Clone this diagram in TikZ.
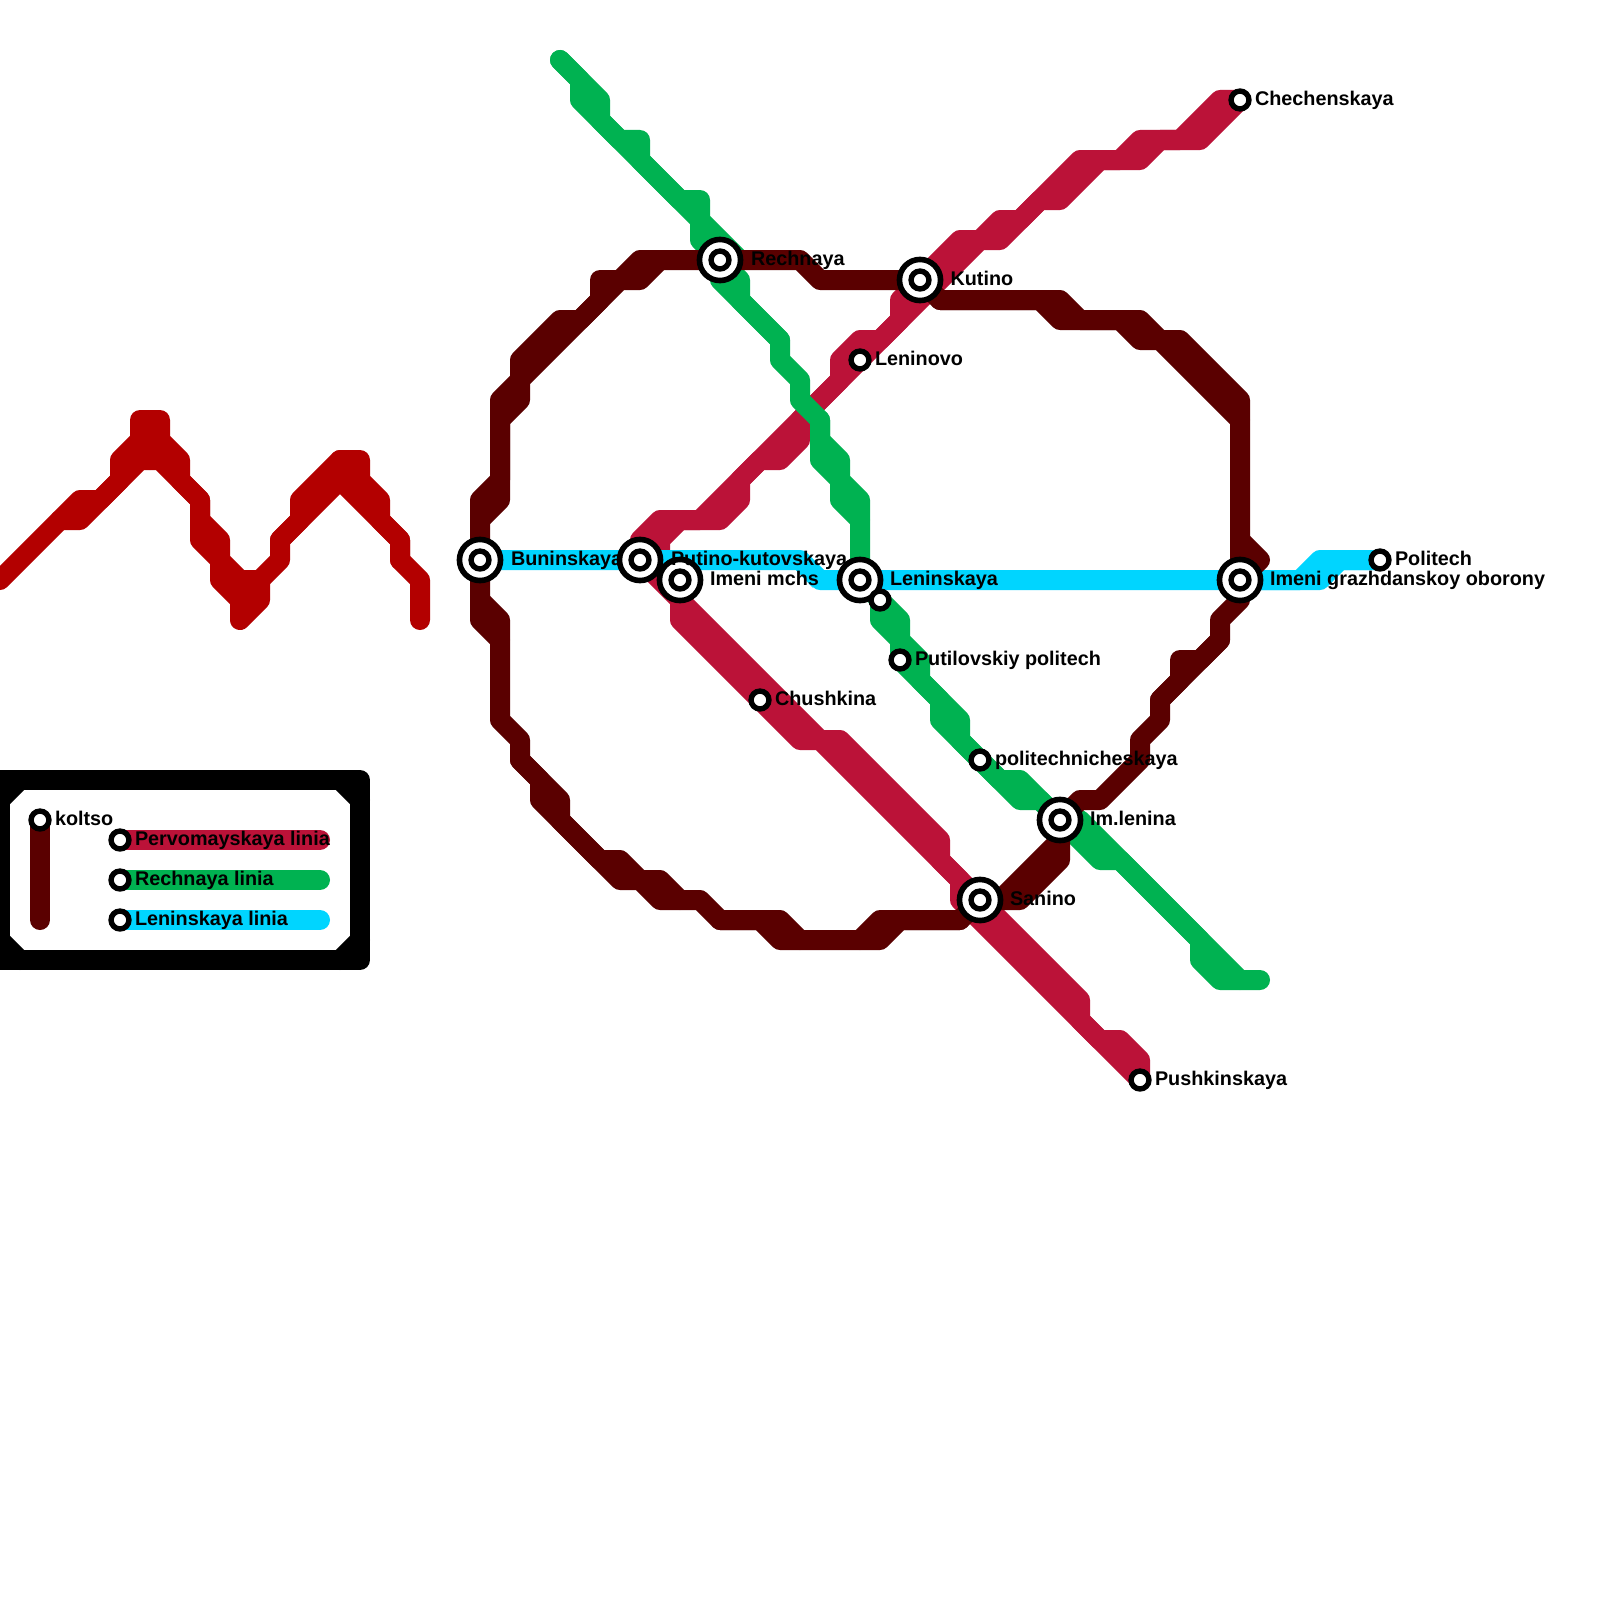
\documentclass[tikz,border=0pt]{standalone}
\usepackage{fontspec}
\setmainfont{Liberation Sans}
\definecolor{cred}{HTML}{B30000}
\definecolor{cpink}{HTML}{BB1238}
\definecolor{cgreen}{HTML}{00B251}
\definecolor{ccyan}{HTML}{00D5FF}
\definecolor{cbrown}{HTML}{5A0000}
\tikzset{
  route/.style={line width=20pt,line cap=round,line join=round},
  bigstn/.style={circle,draw=black,fill=white,line width=5.6pt,minimum size=41.1pt,inner sep=0pt,outer sep=0pt},
  smallstn/.style={circle,draw=black,fill=white,line width=5.4pt,minimum size=17.9pt,inner sep=0pt,outer sep=0pt},
  lbl/.style={anchor=base west,inner sep=0pt,outer sep=0pt,font=\fontsize{19.8}{24}\selectfont\bfseries,text=black},
}
\begin{document}
\begin{tikzpicture}[x=1pt,y=-1pt]
\clip (0,0) rectangle (1600,1600);
\fill[white] (0,0) rectangle (1600,1600);
% station positions
\coordinate (bun) at (480,560);
\coordinate (put) at (640,560);
\coordinate (mch) at (680,580);
\coordinate (chu) at (760,700);
\coordinate (rec) at (720,260);
\coordinate (kut) at (920,280);
\coordinate (len) at (860,360);
\coordinate (lns) at (860,580);
\coordinate (unn) at (880,600);
\coordinate (ptl) at (900,660);
\coordinate (plt) at (980,760);
\coordinate (iml) at (1060,820);
\coordinate (san) at (980,900);
\coordinate (pus) at (1140,1080);
\coordinate (che) at (1240,100);
\coordinate (igo) at (1240,580);
\coordinate (pol) at (1380,560);
\coordinate (kol) at (40,820);
\coordinate (lgp) at (120,840);
\coordinate (lgr) at (120,880);
\coordinate (lgl) at (120,920);
% isolated red line
\draw[route,cred] (0,580)--(80,500)--(100,500)--(120,480)--(120,460)--(140,440)--(140,420)--(160,420)--(160,440)--(180,460)--(180,480)--(200,500)--(200,520)--(220,540)--(220,560)--(240,580)--(260,580)--(280,560)--(280,540)--(300,520)--(300,500)--(340,460)--(360,460)--(360,480)--(380,500)--(380,520)--(400,540)--(400,560)--(420,580)--(420,620);
\draw[route,cred] (60,520)--(80,520)--(140,460)--(160,460)--(200,500)--(200,540)--(220,560)--(220,580)--(240,600)--(240,620)--(260,600)--(260,580);
\draw[route,cred] (280,540)--(340,480)--(400,540)--(400,560);
\draw[route,cred] (140,440)--(160,440)--(150,460)--cycle;
\draw[route,cred] (340,460)--(340,480);
\draw[route,cred] (240,580)--(240,600);
% pink line
\draw[route,cpink] (che)--(1220,100)--(1180,140)--(1140,140)--(1120,160)--(1080,160)--(1020,220)--(1000,220)--(980,240)--(960,240)--(kut)--(900,300)--(900,320)--(880,340)--(860,340)--(840,360)--(840,380)--(700,520)--(660,520)--(640,540)--(put)--(680,600)--(820,740)--(840,740)--(940,840)--(940,860)--(san)--(1080,1000)--(1080,1020)--(1100,1040)--(1120,1040)--(1140,1060)--(pus);
\draw[route,cpink] (che)--(1200,140)--(1160,140)--(1140,160)--(1100,160)--(1060,200)--(1040,200)--(1000,240)--(980,240)--(960,260)--(800,420)--(800,440)--(780,460)--(760,460)--(740,480)--(740,500)--(720,520)--(680,520)--(660,540)--(660,570)--(mch)--(680,620)--(800,740)--(820,740)--(960,880)--(960,900)--(pus);
% green line
\draw[route,cgreen] (560,60)--(600,100)--(600,120)--(620,140)--(640,140)--(640,160)--(680,200)--(700,200)--(700,220)--(740,260);
\draw[route,cgreen] (rec)--(740,280)--(740,300)--(780,340)--(780,360)--(800,380)--(800,400)--(820,420)--(820,440)--(840,460)--(840,480)--(860,500)--(lns)--(unn)--(900,620)--(900,640)--(920,660)--(920,680)--(960,720)--(960,740)--(1000,780)--(1020,780)--(iml)--(1080,820)--(1240,980)--(1260,980);
\draw[route,cgreen] (560,60)--(580,80)--(580,100)--(700,220)--(700,240)--(rec)--(720,280)--(780,340);
\draw[route,cgreen] (820,420)--(820,460)--(840,480)--(840,500)--(860,520);
\draw[route,cgreen] (unn)--(880,620)--(900,640)--(ptl)--(940,700)--(940,720)--(1020,800)--(1040,800)--(iml)--(1100,860)--(1120,860)--(1200,940)--(1200,960)--(1220,980)--(1240,980);
% cyan line
\draw[route,ccyan] (bun)--(put)--(800,560)--(820,580)--(lns)--(igo)--(1320,580)--(1340,560)--(pol);
\draw[route,ccyan] (igo)--(1300,580)--(1320,560)--(pol);
\fill[ccyan] (796,570)--(810,570)--(810,580)--(813,588)--cycle;
% ring line
\draw[route,cbrown] (bun)--(480,500)--(500,480)--(500,400)--(520,380)--(520,360)--(560,320)--(580,320)--(600,300)--(600,280)--(620,280)--(640,260)--(rec)--(800,260)--(820,280)--(kut)--(940,300)--(1060,300)--(1080,320)--(1140,320)--(1160,340)--(1180,340)--(1240,400)--(igo)--(1240,600)--(1220,620)--(1220,640)--(1160,700)--(1160,720)--(1140,740)--(1140,760)--(1100,800)--(1080,800)--(iml)--(1060,860)--(1020,900)--(san)--(960,920)--(880,920)--(860,940)--(800,940)--(780,920)--(720,920)--(700,900)--(680,900)--(660,880)--(640,880)--(620,860)--(600,860)--(560,820)--(560,800)--(520,760)--(520,740)--(500,720)--(500,640)--(480,620)--(bun);
\draw[route,cbrown] (480,520)--(500,500)--(500,420)--(520,400)--(520,380)--(620,280)--(640,280)--(660,260);
\draw[route,cbrown] (940,300)--(1040,300)--(1060,320)--(1120,320)--(1140,340)--(1160,340)--(1240,420);
\draw[route,cbrown] (1240,540)--(1260,560)--(igo);
\draw[route,cbrown] (1220,640)--(1200,660)--(1180,660)--(1180,680)--(1160,700);
\draw[route,cbrown] (1060,840)--(1000,900)--(san);
\draw[route,cbrown] (480,600)--(500,620)--(500,640);
\draw[route,cbrown] (520,760)--(540,780)--(540,800)--(620,880)--(640,880)--(660,900)--(680,900);
\draw[route,cbrown] (720,920)--(760,920)--(780,940)--(800,940);
\draw[route,cbrown] (860,940)--(880,940)--(900,920)--(960,920);
% legend frame
\draw[route,black] (0,780)--(360,780)--(360,960)--(0,960)--cycle;
\draw[route,black] (0,800)--(20,780);
\draw[route,black] (340,780)--(360,800);
\draw[route,black] (360,940)--(340,960);
\draw[route,black] (20,960)--(0,940);
\coordinate (kolend) at (40,920);
\coordinate (lgpend) at (320,840);
\coordinate (lgrend) at (320,880);
\coordinate (lglend) at (320,920);
\draw[route,cbrown] (kol)--(kolend);
\draw[route,cpink] (lgp)--(lgpend);
\draw[route,cgreen] (lgr)--(lgrend);
\draw[route,ccyan] (lgl)--(lglend);
% stations
\foreach \s in {bun,put,mch,rec,kut,lns,iml,san,igo}{
  \node[bigstn] (n\s) at (\s) {};
  \node[smallstn] (i\s) at (\s) {};
}
\foreach \s in {chu,len,unn,ptl,plt,pus,che,pol,kol,lgp,lgr,lgl}{
  \node[smallstn] (n\s) at (\s) {};
}
% labels
\node[lbl] (tbun) at (511,565) {Buninskaya};
\node[lbl] (tput) at (671,565) {Putino-kutovskaya};
\node[lbl] (tmch) at (710,585) {Imeni mchs};
\node[lbl] (trec) at (751,265) {Rechnaya};
\node[lbl] (tkut) at (950.5,285) {Kutino};
\node[lbl] (tlns) at (890,585) {Leninskaya};
\node[lbl] (timl) at (1090,825) {Im.lenina};
\node[lbl] (tsan) at (1010,905) {Sanino};
\node[lbl] (tigo) at (1270,585) {Imeni grazhdanskoy oborony};
\node[lbl] (tchu) at (775,705) {Chushkina};
\node[lbl] (tlen) at (875,365) {Leninovo};
\node[lbl] (tptl) at (915,665) {Putilovskiy politech};
\node[lbl] (tplt) at (995,765) {politechnicheskaya};
\node[lbl] (tpus) at (1155,1085) {Pushkinskaya};
\node[lbl] (tche) at (1255,106) {Chechenskaya};
\node[lbl] (tpol) at (1395,565) {Politech};
\node[lbl] (tkol) at (55,825) {koltso};
\node[lbl] (tlgp) at (135,845) {Pervomayskaya linia};
\node[lbl] (tlgr) at (135,885) {Rechnaya linia};
\node[lbl] (tlgl) at (135,925) {Leninskaya linia};
\end{tikzpicture}
\end{document}
